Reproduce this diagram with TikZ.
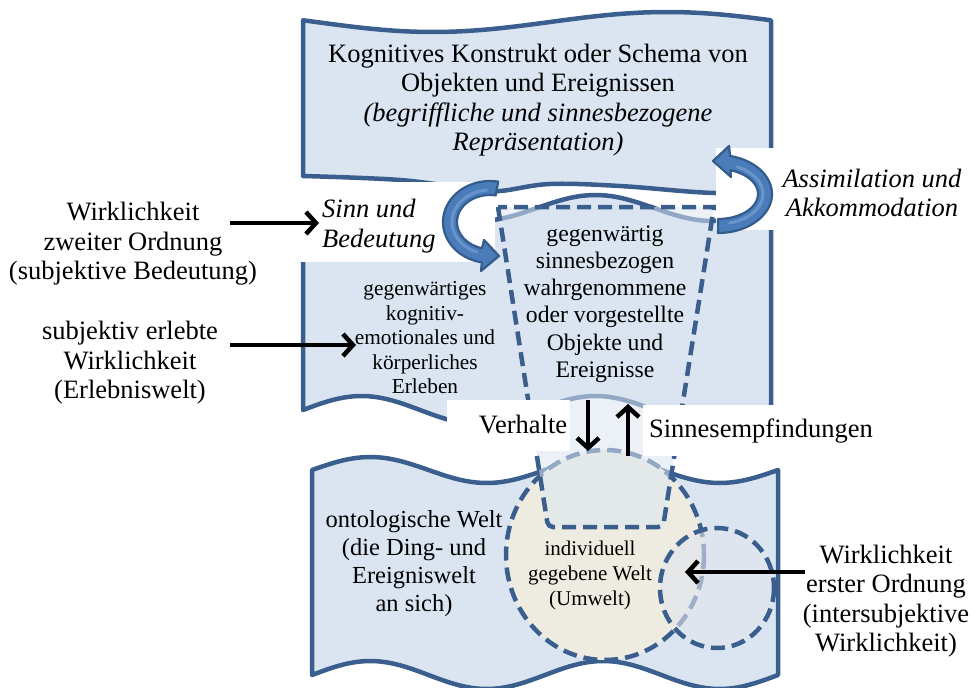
\documentclass[tikz,border=0pt]{standalone}
\usepackage{fontspec}
\setmainfont{Liberation Serif}
\usetikzlibrary{arrows.meta}
\definecolor{bfill}{HTML}{DBE5F1}
\definecolor{bline}{HTML}{3A5F8E}
\definecolor{beige}{HTML}{EEECE1}
\definecolor{afill}{HTML}{4A7CBA}
\definecolor{aline}{HTML}{335B8C}
\definecolor{ahigh}{HTML}{7FA5D6}
\definecolor{scirc}{HTML}{E2E5EE}
\begin{document}
\begin{tikzpicture}[x=1pt,y=-1pt,
  banner/.style={fill=bfill, draw=bline, line width=4.5pt, line join=round},
  dashedge/.style={draw=bline, line width=4.5pt, dash pattern=on 14pt off 7pt},
  blk/.style={line width=4.5pt, -{Straight Barb[length=10pt,width=22pt]}},
  arrowst/.style={fill=afill, draw=aline, line width=2.2pt, line join=round},
  txt/.style={font=\fontsize{26.5}{29.5}\selectfont, align=center, inner sep=0pt},
  smalltxt/.style={font=\fontsize{21.3}{24.5}\selectfont, align=center, inner sep=0pt},
  midtxt/.style={font=\fontsize{23.7}{27.2}\selectfont, align=center, inner sep=0pt}
]
\useasboundingbox (0,0) rectangle (975,688);

% top banner
\path[banner] plot[domain=303:771, samples=60] (\x,{22+10*sin(((\x-303)/468)*360-10)})
  -- plot[smooth, tension=0.6] coordinates {(771,189) (715,193) (620,186) (550,184) (500,191) (470,189) (400,180) (303,176)} -- cycle;
% middle banner
\path[banner] plot[domain=303:771, samples=80] (\x,{208-13*sin(((\x-303)/468)*720)})
  -- plot[domain=771:303, samples=80] (\x,{410-14*sin(((\x-303)/468)*720)}) -- cycle;
% bottom banner
\path[banner] plot[domain=312:778, samples=80] (\x,{470-13*sin(((\x-312)/466)*720)})
  -- plot[domain=778:312, samples=80] (\x,{675-14*sin(((\x-312)/466)*720)}) -- cycle;

% circles
\draw[dashedge, fill=beige] (605,555) ellipse [x radius=99, y radius=105];
\draw[dashedge, fill=scirc, fill opacity=0.6] (717,588) ellipse [x radius=57, y radius=60];

% trapezoid
\fill[bfill, fill opacity=0.55] (498,207) -- (548,527) -- (663,527) -- (714,207) -- cycle;
\draw[dashedge] (498,207) [rounded corners=5pt] -- (548,527) -- (663,527) [sharp corners] -- (714,207) -- cycle;

% white label boxes
\fill[white] (300,182) rectangle (495,262);
\fill[white] (716,148) rectangle (965,230);
\fill[white] (447,400) rectangle (570,451);
\fill[white] (643,405) rectangle (880,456);

% curved block arrows
\filldraw[arrowst] plot[domain=80:260, samples=40] ({490+47*cos(\x)},{222-41*sin(\x)})
  -- (481,271) -- (499,256) -- (484,240)
  -- plot[domain=256:80, samples=40] ({490+33*cos(\x)},{222-27*sin(\x)}) -- cycle;
\draw[ahigh, line width=3pt, opacity=0.6, line cap=round] plot[domain=95:250, samples=30] ({490+38*cos(\x)},{222-32*sin(\x)});
\filldraw[arrowst] plot[domain=-90:77, samples=40] ({718+54*cos(\x)},{194-39*sin(\x)})
  -- (729,146) -- (713,161) -- (731,177)
  -- plot[domain=72:-90, samples=40] ({718+40*cos(\x)},{194-25*sin(\x)}) -- cycle;
\draw[ahigh, line width=3pt, opacity=0.6, line cap=round] plot[domain=-75:65, samples=30] ({718+45*cos(\x)},{194-30*sin(\x)});

% texts
\node[txt] (schema) at (538,100) {Kognitives Konstrukt oder Schema von\\Objekten und Ereignissen\\\textit{(begriffliche und sinnesbezogene}\\\textit{Repräsentation)}};
\node[txt] (zweite) at (133,244) {Wirklichkeit\\zweiter Ordnung\\(subjektive Bedeutung)};
\node[txt] (erlebt) at (130,363) {subjektiv erlebte\\Wirklichkeit\\(Erlebniswelt)};
\node[txt, align=left, anchor=west] (sinn) at (322,226) {\textit{Sinn und}\\\textit{Bedeutung}};
\node[txt] (assim) at (872,193) {\textit{Assimilation und}\\\textit{Akkommodation}};
\node[smalltxt] (erleben) at (425,338) {gegenwärtiges\\kognitiv-\\emotionales und\\körperliches\\Erleben};
\node[midtxt] (wahr) at (605,304) {gegenwärtig\\sinnesbezogen\\wahrgenommene\\oder vorgestellte\\Objekte und\\Ereignisse};
\node[txt] (verh) at (523,425) {Verhalte};
\node[txt] (sinnes) at (761,431) {Sinnesempfindungen};
\node[txt, font=\fontsize{24.5}{28}\selectfont] (onto) at (414,564) {ontologische Welt\\(die Ding- und\\Ereigniswelt\\an sich)};
\node[smalltxt, font=\fontsize{21}{25}\selectfont] (umwelt) at (590,575) {individuell\\gegebene Welt\\(Umwelt)};
\node[txt] (erste) at (886,601) {Wirklichkeit\\erster Ordnung\\(intersubjektive\\Wirklichkeit)};

% black arrows
\coordinate (a1s) at (230,223); \coordinate (a1e) at (319,223);
\coordinate (a2s) at (230,345); \coordinate (a2e) at (356,345);
\coordinate (a3s) at (805,572); \coordinate (a3e) at (685,572);
\coordinate (a4s) at (588,400); \coordinate (a4e) at (588,451);
\coordinate (a5s) at (628,456); \coordinate (a5e) at (628,404);
\draw[blk] (a1s) -- (a1e);
\draw[blk] (a2s) -- (a2e);
\draw[blk] (a3s) -- (a3e);
\draw[blk] (a4s) -- (a4e);
\draw[blk] (a5s) -- (a5e);
\end{tikzpicture}
\end{document}
